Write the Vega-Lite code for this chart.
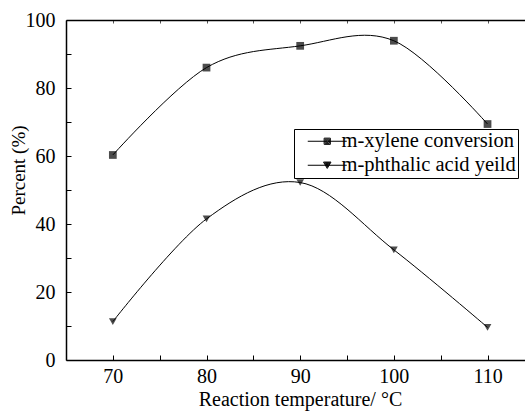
{
  "$schema": "https://vega.github.io/schema/vega-lite/v6.json",
  "autosize": {"type": "none"},
  "padding": {"left": 66, "top": 20, "right": 0, "bottom": 51},
  "width": 459,
  "height": 340,
  "background": "white",
  "config": {
    "view": {"stroke": null},
    "font": "Liberation Serif",
    "axis": {
      "domainColor": "black", "domainWidth": 1.5,
      "tickColor": "black", "tickWidth": 1,
      "labelColor": "black", "titleColor": "black",
      "labelFont": "Liberation Serif", "titleFont": "Liberation Serif",
      "labelFontSize": 20, "titleFontSize": 19, "titleFontWeight": "normal",
      "grid": false, "labelFlush": false, "labelOverlap": false
    }
  },
  "data": {
    "values": [
      {"series": "m-xylene conversion", "temp": 70, "pct": 60.3},
      {"series": "m-xylene conversion", "temp": 80, "pct": 86.0},
      {"series": "m-xylene conversion", "temp": 90, "pct": 92.4},
      {"series": "m-xylene conversion", "temp": 100, "pct": 93.9},
      {"series": "m-xylene conversion", "temp": 110, "pct": 69.4},
      {"series": "m-phthalic acid yeild", "temp": 70, "pct": 11.3},
      {"series": "m-phthalic acid yeild", "temp": 80, "pct": 41.5},
      {"series": "m-phthalic acid yeild", "temp": 90, "pct": 52.2},
      {"series": "m-phthalic acid yeild", "temp": 100, "pct": 32.4},
      {"series": "m-phthalic acid yeild", "temp": 110, "pct": 9.6}
    ]
  },
  "layer": [
    {
      "mark": {"type": "line", "interpolate": "cardinal", "color": "black", "strokeWidth": 1},
      "encoding": {
        "x": {
          "field": "temp", "type": "quantitative",
          "scale": {"domain": [65, 114], "nice": false, "zero": false},
          "axis": {
            "orient": "bottom",
            "values": [70, 75, 80, 85, 90, 95, 100, 105, 110],
            "tickSize": -5,
            "labelExpr": "datum.value % 10 === 0 ? datum.label : ''",
            "labelFont": "Liberation Serif", "labelFontSize": 20,
            "labelBaseline": "alphabetic",
            "labelPadding": 27,
            "title": "Reaction temperature/ °C",
            "titleFontSize": 20,
            "titleX": 234, "titleY": 45,
            "titleAlign": "center", "titleBaseline": "alphabetic",
            "encode": {"ticks": {"update": {"y2": {"signal": "datum.value % 10 === 0 ? -5 : -3"}}}}
          }
        },
        "y": {
          "field": "pct", "type": "quantitative",
          "scale": {"domain": [0, 100], "nice": false},
          "axis": {
            "orient": "left",
            "values": [0, 10, 20, 30, 40, 50, 60, 70, 80, 90, 100],
            "tickSize": -5,
            "labelExpr": "datum.value % 20 === 0 ? datum.label : ''",
            "labelFont": "Liberation Serif", "labelFontSize": 20,
            "labelPadding": 16,
            "title": "Percent (%)",
            "titleX": -42, "titleY": 150, "titleAngle": -90,
            "titleAlign": "center", "titleBaseline": "alphabetic",
            "encode": {"ticks": {"update": {"x2": {"signal": "datum.value % 20 === 0 ? 5 : 3"}}}}
          }
        },
        "detail": {"field": "series", "type": "nominal"}
      }
    },
    {
      "mark": {"type": "point", "filled": true, "color": "black", "size": 60},
      "encoding": {
        "x": {
          "field": "temp", "type": "quantitative",
          "axis": {
            "orient": "top",
            "values": [70, 75, 80, 85, 90, 95, 100, 105, 110],
            "tickSize": -3, "tickColor": "#555", "labels": false, "title": null
          }
        },
        "y": {"field": "pct", "type": "quantitative", "axis": null},
        "shape": {
          "field": "series", "type": "nominal",
          "scale": {"domain": ["m-xylene conversion", "m-phthalic acid yeild"], "range": ["square", "triangle-down"]},
          "legend": null
        }
      }
    },
    {
      "mark": {"type": "point", "filled": false, "color": "black", "strokeWidth": 1, "size": 100, "opacity": 0},
      "encoding": {
        "x": {"field": "temp", "type": "quantitative", "axis": null},
        "y": {"field": "pct", "type": "quantitative", "axis": null},
        "shape": {
          "field": "series", "type": "nominal",
          "scale": {
            "domain": ["m-xylene conversion", "m-phthalic acid yeild"],
            "range": [
              "M-3.9,0H3.9M-0.62,-0.62H0.62V0.62H-0.62ZM-0.42,-0.42H0.42V0.42H-0.42ZM-0.22,-0.22H0.22V0.22H-0.22Z",
              "M-3.9,0H3.9M-0.75,-0.64H0.75L0,0.64ZM-0.525,-0.512H0.525L0,0.384ZM-0.3,-0.384H0.3L0,0.128ZM-0.11,-0.277H0.11L0,-0.085Z"
            ]
          },
          "legend": {
            "orient": "none", "legendX": 228, "legendY": 109,
            "title": null,
            "strokeColor": "black", "fillColor": "white",
            "padding": 2, "rowPadding": 3,
            "symbolOffset": 21, "labelOffset": 4, "symbolSize": 100,
            "symbolStrokeWidth": 1, "symbolStrokeColor": "black", "symbolOpacity": 1,
            "labelFont": "Liberation Serif", "labelFontSize": 20.5, "labelColor": "black", "labelLimit": 400
          }
        }
      }
    }
  ],
  "resolve": {
    "axis": {"x": "independent", "y": "independent"},
    "scale": {"shape": "independent"},
    "legend": {"shape": "independent"}
  }
}
